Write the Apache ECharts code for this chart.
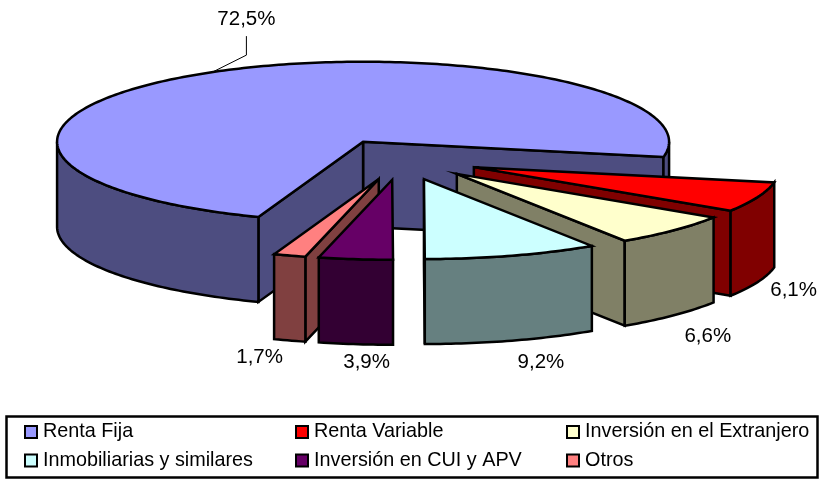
<!DOCTYPE html>
<html>
<head>
<meta charset="utf-8">
<style>
  html, body { margin: 0; padding: 0; background: #fff; }
  #main { width: 821px; height: 480px; }
</style>
<script src="https://cdn.jsdelivr.net/npm/echarts@6/dist/echarts.min.js"></script>
</head>
<body>
<div id="main"></div>
<script>
// data
var categories = ['Renta Fija', 'Renta Variable', 'Inversión en el Extranjero', 'Inmobiliarias y similares', 'Inversión en CUI y APV', 'Otros'];
var values = [72.5, 6.1, 6.6, 9.2, 3.9, 1.7];

// colours of the top faces and of the walls
var topColors = ['#9999FF', '#FF0000', '#FFFFCC', '#CCFFFF', '#660066', '#FF8080'];
var sideColors = ['#4D4D80', '#800000', '#808066', '#668080', '#330033', '#804040'];

// painter's order, back to front
var drawOrder = [0, 1, 2, 3, 5, 4];
// label shift from the foot of the slice
var labelNudge = [[34, -53], [36, 8], [34, 21], [29, 22], [11, 18], [-30, 17]];

// pie projection
var cx = 401.5, cy = 159.5, rx = 306, ry = 80, depth = 85;
var explode = 0.255, firstAngle = 200;
var FONT = '"Liberation Sans", Arial, sans-serif';

var total = values.reduce(function (a, b) { return a + b; }, 0);

function rad(d) { return d * Math.PI / 180; }

// clockwise from the top of the ellipse
function onRim(o, t, dy) {
  return [o[0] + rx * Math.sin(rad(t)), o[1] - ry * Math.cos(rad(t)) + (dy || 0)];
}

function arcPoints(o, a, b, dy) {
  var pts = [];
  var n = Math.max(2, Math.ceil(Math.abs(b - a)));
  for (var i = 0; i <= n; i++) {
    pts.push(onRim(o, a + (b - a) * i / n, dy));
  }
  return pts;
}

function face(points, color) {
  return {
    type: 'polygon',
    shape: { points: points },
    style: { fill: color, stroke: '#000', lineWidth: 2.5, lineJoin: 'miter' }
  };
}

function wall(o, t, color) {
  var p = onRim(o, t);
  return face([o, p, [p[0], p[1] + depth], [o[0], o[1] + depth]], color);
}

function sliceAngles(idx) {
  var start = firstAngle;
  for (var i = 0; i < idx; i++) start += values[i] / total * 360;
  return [start, start + values[idx] / total * 360];
}

function renderSlice(idx) {
  var ang = sliceAngles(idx);
  var a = ang[0], b = ang[1], mid = (a + b) / 2;
  // exploded apex
  var o = [cx + explode * rx * Math.sin(rad(mid)), cy - explode * ry * Math.cos(rad(mid))];
  var side = sideColors[idx];
  var kids = [];

  // walls along the radii, only when they face us
  if (Math.sin(rad(b)) > 0.001) kids.push(wall(o, b, side));
  if (Math.sin(rad(a)) < -0.001) kids.push(wall(o, a, side));

  // outer wall: front half of the rim only
  [[90, 270], [450, 630]].forEach(function (range) {
    var s = Math.max(a, range[0]), e = Math.min(b, range[1]);
    if (e > s) {
      kids.push(face(arcPoints(o, s, e).concat(arcPoints(o, e, s, depth)), side));
    }
  });

  kids.push(face([o].concat(arcPoints(o, a, b)), topColors[idx]));

  // value label
  var foot = onRim(o, mid, Math.cos(rad(mid)) < 0 ? depth : 0);
  var nudge = labelNudge[idx];
  var lx = foot[0] + nudge[0], ly = foot[1] + nudge[1];
  if (idx === 0) {
    // leader line of the big slice
    kids.push({
      type: 'polyline',
      shape: { points: [foot, [lx, foot[1] - 17], [lx, ly + 17]] },
      style: { fill: null, stroke: '#000', lineWidth: 1 }
    });
  }
  kids.push({
    type: 'text',
    x: lx, y: ly,
    style: {
      text: values[idx].toFixed(1).replace('.', ',') + '%',
      font: '20.5px ' + FONT,
      fill: '#000',
      align: 'center',
      verticalAlign: 'middle'
    }
  });
  return { type: 'group', children: kids };
}

var series = categories.map(function (name, idx) {
  return {
    type: 'custom',
    name: name,
    coordinateSystem: 'none',
    z: 2 + drawOrder.indexOf(idx),
    silent: true,
    itemStyle: { color: topColors[idx] },
    data: [values[idx]],
    renderItem: function () { return renderSlice(idx); }
  };
});

// one legend per column
var legendLeft = [24, 295, 566];
var legends = legendLeft.map(function (left, col) {
  return {
    orient: 'vertical',
    left: left,
    top: 422,
    padding: 0,
    itemGap: 8.5,
    itemWidth: 12,
    itemHeight: 12,
    icon: 'rect',
    selectedMode: false,
    itemStyle: { borderColor: '#000', borderWidth: 2 },
    textStyle: { fontFamily: FONT, fontSize: 19.8, color: '#000', padding: [0, 0, 0, 1] },
    data: [categories[col], categories[col + 3]]
  };
});

var option = {
  animation: false,
  backgroundColor: '#fff',
  legend: legends,
  graphic: [{
    type: 'rect',
    z: 0,
    shape: { x: 6.5, y: 416.5, width: 811, height: 61 },
    style: { fill: '#fff', stroke: '#000', lineWidth: 2.5 }
  }],
  series: series
};

var myChart = echarts.init(document.getElementById('main'), null, { renderer: 'canvas' });
myChart.setOption(option);
</script>
</body>
</html>
